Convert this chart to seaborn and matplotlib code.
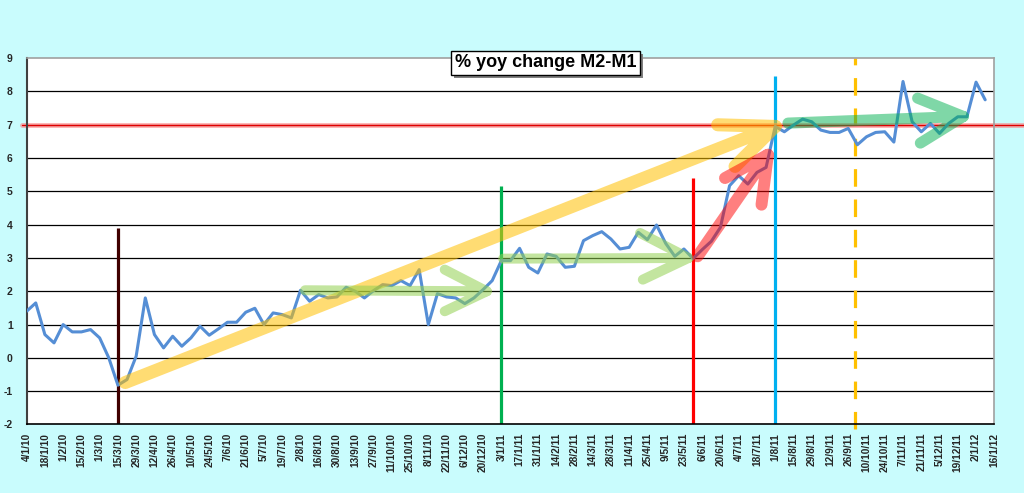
import numpy as np
import pandas as pd
import matplotlib
matplotlib.use("Agg")
import matplotlib.pyplot as plt
from matplotlib.patches import Rectangle
import seaborn as sns

# ---------------- data ----------------
values = [1.40, 1.65, 0.70, 0.45, 1.00, 0.78, 0.78, 0.85, 0.60, 0.00,
          -0.82, -0.65, 0.05, 1.80, 0.70, 0.30, 0.65, 0.35, 0.60, 0.95,
          0.68, 0.87, 1.07, 1.07, 1.37, 1.49, 1.00, 1.35, 1.30, 1.20,
          2.03, 1.70, 1.90, 1.80, 1.83, 2.12, 2.00, 1.80, 2.02, 2.20,
          2.17, 2.32, 2.17, 2.65, 1.00, 1.93, 1.83, 1.80, 1.63, 1.80,
          2.05, 2.32, 2.92, 2.92, 3.29, 2.72, 2.55, 3.12, 3.05, 2.72,
          2.75, 3.52, 3.67, 3.79, 3.57, 3.27, 3.32, 3.77, 3.55, 3.99,
          3.44, 3.05, 3.27, 2.98, 3.25, 3.50, 3.92, 5.17, 5.47, 5.22,
          5.57, 5.72, 6.95, 6.79, 6.99, 7.17, 7.09, 6.84, 6.77, 6.77,
          6.89, 6.40, 6.64, 6.77, 6.79, 6.48, 8.30, 7.09, 6.79, 7.04,
          6.74, 7.04, 7.24, 7.24, 8.28, 7.75]

tick_labels = ["4/1/10", "18/1/10", "1/2/10", "15/2/10", "1/3/10", "15/3/10",
               "29/3/10", "12/4/10", "26/4/10", "10/5/10", "24/5/10", "7/6/10",
               "21/6/10", "5/7/10", "19/7/10", "2/8/10", "16/8/10", "30/8/10",
               "13/9/10", "27/9/10", "11/10/10", "25/10/10", "8/11/10", "22/11/10",
               "6/12/10", "20/12/10", "3/1/11", "17/1/11", "31/1/11", "14/2/11",
               "28/2/11", "14/3/11", "28/3/11", "11/4/11", "25/4/11", "9/5/11",
               "23/5/11", "6/6/11", "20/6/11", "4/7/11", "18/7/11", "1/8/11",
               "15/8/11", "29/8/11", "12/9/11", "26/9/11", "10/10/11", "24/10/11",
               "7/11/11", "21/11/11", "5/12/11", "19/12/11", "2/1/12", "16/1/12"]

title = "% yoy change M2-M1"

# vertical marker lines: position (week index), top value, colour, style
vline_pos = [10, 52, 73, 82, 90.7]
vline_top = [3.9, 5.15, 5.4, 8.45, 9.0]
vline_colors = ["#400000", "#00b050", "#ff0000", "#00b0f0", "#ffc000"]
vline_styles = ["-", "-", "-", "-", "--"]

threshold = 7

# arrows: start, tip, arm1 end, arm2 end (week index, value)
arrows = [
    ((10.8, -0.74), (82.0, 6.95), (75.7, 7.0), (77.6, 5.75), "#ffc000", 0.55, 9.4),
    ((30.5, 2.03), (50.4, 2.0), (45.8, 2.65), (45.8, 1.4), "#92d050", 0.55, 7.2),
    ((52.2, 2.98), (72.5, 3.0), (67.2, 3.75), (67.5, 2.35), "#92d050", 0.55, 7.2),
    ((73.5, 3.05), (81.2, 6.1), (76.5, 5.4), (80.5, 4.6), "#ff0000", 0.5, 8.6),
    ((83.4, 7.05), (102.6, 7.25), (97.6, 7.8), (97.9, 6.45), "#00b050", 0.5, 8.0),
]

# ---------------- style ----------------
sns.set_theme(style="white")
plt.rcParams["font.family"] = ["Liberation Sans", "DejaVu Sans"]
plt.rcParams["axes.unicode_minus"] = False

fig = plt.figure(figsize=(10.24, 4.93), dpi=100, facecolor="#c9fcfd")
ax = fig.add_axes([0.026, 0.139, 0.945, 0.743])
ax.set_facecolor("white")

df = pd.DataFrame({"week": np.arange(len(values)), "value": values})

# grid lines
for yv in range(-1, 9):
    ax.axhline(yv, color="black", lw=0.9, zorder=1)

sns.lineplot(data=df, x="week", y="value", ax=ax, color="#558ed5", lw=2.2,
             zorder=3, legend=False)

# vertical lines
for xp, top, c, ls in zip(vline_pos, vline_top, vline_colors, vline_styles):
    if ls == "--":
        ax.plot([xp, xp], [-2.15, top], color=c, lw=2.3, ls=(0, (5.5, 4)),
                zorder=2, clip_on=False, solid_capstyle="butt")
    else:
        ax.plot([xp, xp], [-2, top], color=c, lw=2.3, zorder=2,
                solid_capstyle="butt")

# threshold line (extends beyond plot)
ax.plot([-0.5, 112], [threshold, threshold], color="#ff8080", lw=3.5, alpha=0.6,
        zorder=2, clip_on=False)
ax.plot([-0.5, 112], [threshold, threshold], color="#e00000", lw=1.0,
        zorder=2, clip_on=False)

# arrows
for s, t, a1, a2, c, al, lw in arrows:
    xs = [s[0], t[0], a1[0], np.nan, t[0], a2[0]]
    ys = [s[1], t[1], a1[1], np.nan, t[1], a2[1]]
    ax.plot(xs, ys, color=c, alpha=al, lw=lw, solid_capstyle="round",
            solid_joinstyle="round", zorder=4)

# axes
ax.set_xlim(0, 106)
ax.set_ylim(-2, 9)
ax.set_yticks(range(-2, 10))
ax.set_yticklabels([str(v) for v in range(-2, 10)], fontsize=7.5,
                   fontweight="bold")
ax.set_xticks(np.arange(0, 107, 2))
ax.set_xticklabels(tick_labels, rotation=90, fontsize=7.3, fontweight="bold")
ax.tick_params(axis="both", which="both", direction="out", length=4,
               width=1, color="black", pad=2)
ax.tick_params(axis="y", pad=6)
ax.set_xlabel("")
ax.set_ylabel("")

for side in ["top", "right"]:
    ax.spines[side].set_color("#a0a0a0")
    ax.spines[side].set_linewidth(1.2)
ax.spines["left"].set_color("#404040")
ax.spines["left"].set_linewidth(1.5)
ax.spines["bottom"].set_color("black")
ax.spines["bottom"].set_linewidth(1.2)

# title box with drop shadow
t = ax.text(0.536, 0.987, title, transform=ax.transAxes, ha="center", va="center",
            fontsize=13, fontweight="bold", color="black", zorder=10,
            bbox=dict(boxstyle="square,pad=0.2", fc="white", ec="black", lw=1))
fig.canvas.draw()
bb = t.get_bbox_patch().get_window_extent(fig.canvas.get_renderer())
fw, fh = fig.bbox.width, fig.bbox.height
shadow = Rectangle(((bb.x0 + 3) / fw, (bb.y0 - 3) / fh), bb.width / fw, bb.height / fh,
                   transform=fig.transFigure, fc="#808080", ec="none", zorder=9)
ax.add_artist(shadow)
shadow.set_clip_on(False)

fig.savefig("out.png", dpi=100, facecolor=fig.get_facecolor())
